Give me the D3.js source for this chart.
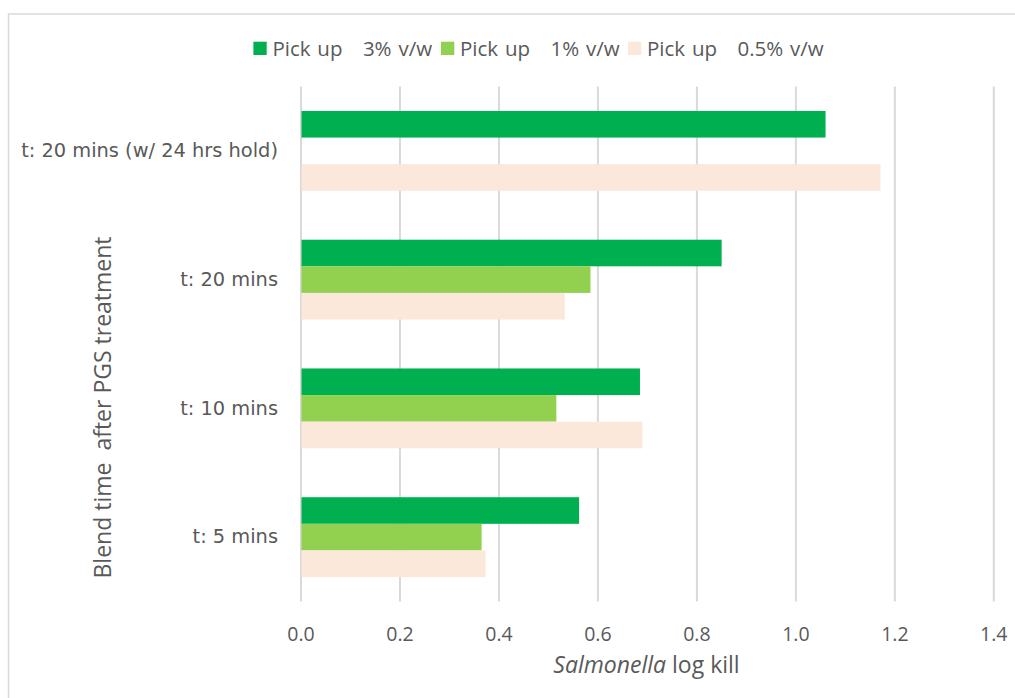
<!DOCTYPE html>
<html>
<head>
<meta charset="utf-8">
<script src="https://cdn.jsdelivr.net/npm/d3@7"></script>
<style>
  html, body { margin: 0; padding: 0; background: #fff; }
  svg { display: block; }
  text { white-space: pre; }
</style>
</head>
<body>
<svg id="chart" width="1015" height="698"></svg>
<script>
// ---- data ----
const categories = ["t: 20 mins (w/ 24 hrs hold)", "t: 20 mins", "t: 10 mins", "t: 5 mins"];
const seriesNames = ["Pick up   3% v/w", "Pick up   1% v/w", "Pick up   0.5% v/w"];
const pickUp3 = [1.061, 0.851, 0.686, 0.563];
const pickUp1 = [null, 0.586, 0.517, 0.366];
const pickUp05 = [1.172, 0.534, 0.691, 0.374];
const xTicks = [0, 0.2, 0.4, 0.6, 0.8, 1.0, 1.2, 1.4];
const seriesColors = ["#00B050", "#92D050", "#FCE8DA"];
const xTitleItalic = "Salmonella";
const xTitleRest = " log kill";
const yTitle = "Blend time  after PGS treatment";

const series = [pickUp3, pickUp1, pickUp05];

const svg = d3.select("#chart");
const textColor = "#595959";
const gridColor = "#D9D9D9";
const fontMain = "'Open Sans', Lato, sans-serif";

// outer border
svg.append("rect")
  .attr("x", 8.5).attr("y", 14)
  .attr("width", 1030).attr("height", 720)
  .attr("fill", "none").attr("stroke", gridColor).attr("stroke-width", 1.5);

const plot = { left: 300.5, right: 993.3, top: 86.5, bottom: 601.5 };

const x = d3.scaleLinear().domain([0, 1.4]).range([plot.left, plot.right]);
const y = d3.scaleBand().domain(categories).range([plot.top, plot.bottom])
  .paddingInner(0.38).paddingOuter(0.19);
const ySub = d3.scaleBand().domain(d3.range(series.length)).range([0, y.bandwidth()]);

// gridlines via axis
const grid = svg.append("g")
  .attr("transform", `translate(0,${plot.bottom})`)
  .call(d3.axisBottom(x).tickValues(xTicks).tickSize(-(plot.bottom - plot.top)).tickFormat(""));
grid.select(".domain").remove();
grid.selectAll(".tick line").attr("stroke", gridColor).attr("stroke-width", 2);

// bars
series.forEach((vals, si) => {
  svg.append("g").selectAll("rect")
    .data(categories.map((c, i) => ({ c, v: vals[i] })).filter(d => d.v != null))
    .join("rect")
    .attr("x", x(0) + 1)
    .attr("y", d => y(d.c) + ySub(si))
    .attr("width", d => x(d.v) - x(0) - 1)
    .attr("height", ySub.bandwidth())
    .attr("fill", seriesColors[si]);
});

// x tick labels
const xAxis = svg.append("g")
  .attr("transform", `translate(0,${plot.bottom})`)
  .call(d3.axisBottom(x).tickValues(xTicks).tickSize(0).tickPadding(0).tickFormat(d3.format(".1f")));
xAxis.select(".domain").remove();
xAxis.selectAll("text")
  .attr("y", 641 - plot.bottom).attr("dy", null)
  .attr("fill", textColor)
  .style("font-family", fontMain)
  .style("font-size", "19.5px");

// y category labels
const yAxis = svg.append("g")
  .attr("transform", `translate(278,0)`)
  .call(d3.axisLeft(y).tickSize(0).tickPadding(0));
yAxis.select(".domain").remove();
yAxis.selectAll("text")
  .attr("fill", textColor)
  .style("font-family", "'DejaVu Sans', Verdana, sans-serif")
  .style("font-size", "19.4px");

// x axis title
const xt = svg.append("text")
  .attr("x", 646.5).attr("y", 673)
  .attr("text-anchor", "middle")
  .attr("fill", textColor)
  .style("font-family", fontMain)
  .style("font-size", "23px");
xt.append("tspan").style("font-style", "italic").text(xTitleItalic);
xt.append("tspan").text(xTitleRest);

// y axis title
svg.append("text")
  .attr("transform", `translate(111,${407.5}) rotate(-90)`)
  .attr("text-anchor", "middle")
  .attr("fill", textColor)
  .style("font-family", fontMain)
  .style("font-size", "23px")
  .text(yTitle);

// legend
const legendX = [253.4, 441, 628];
const legend = svg.append("g");
seriesNames.forEach((name, i) => {
  legend.append("rect")
    .attr("x", legendX[i]).attr("y", 41.7)
    .attr("width", 13.3).attr("height", 13.3)
    .attr("fill", seriesColors[i]);
  legend.append("text")
    .attr("x", legendX[i] + 19).attr("y", 55.7)
    .attr("fill", textColor)
    .style("font-family", fontMain)
    .style("font-size", "20.5px")
    .style("word-spacing", "1.5px")
    .text(name);
});
</script>
</body>
</html>
